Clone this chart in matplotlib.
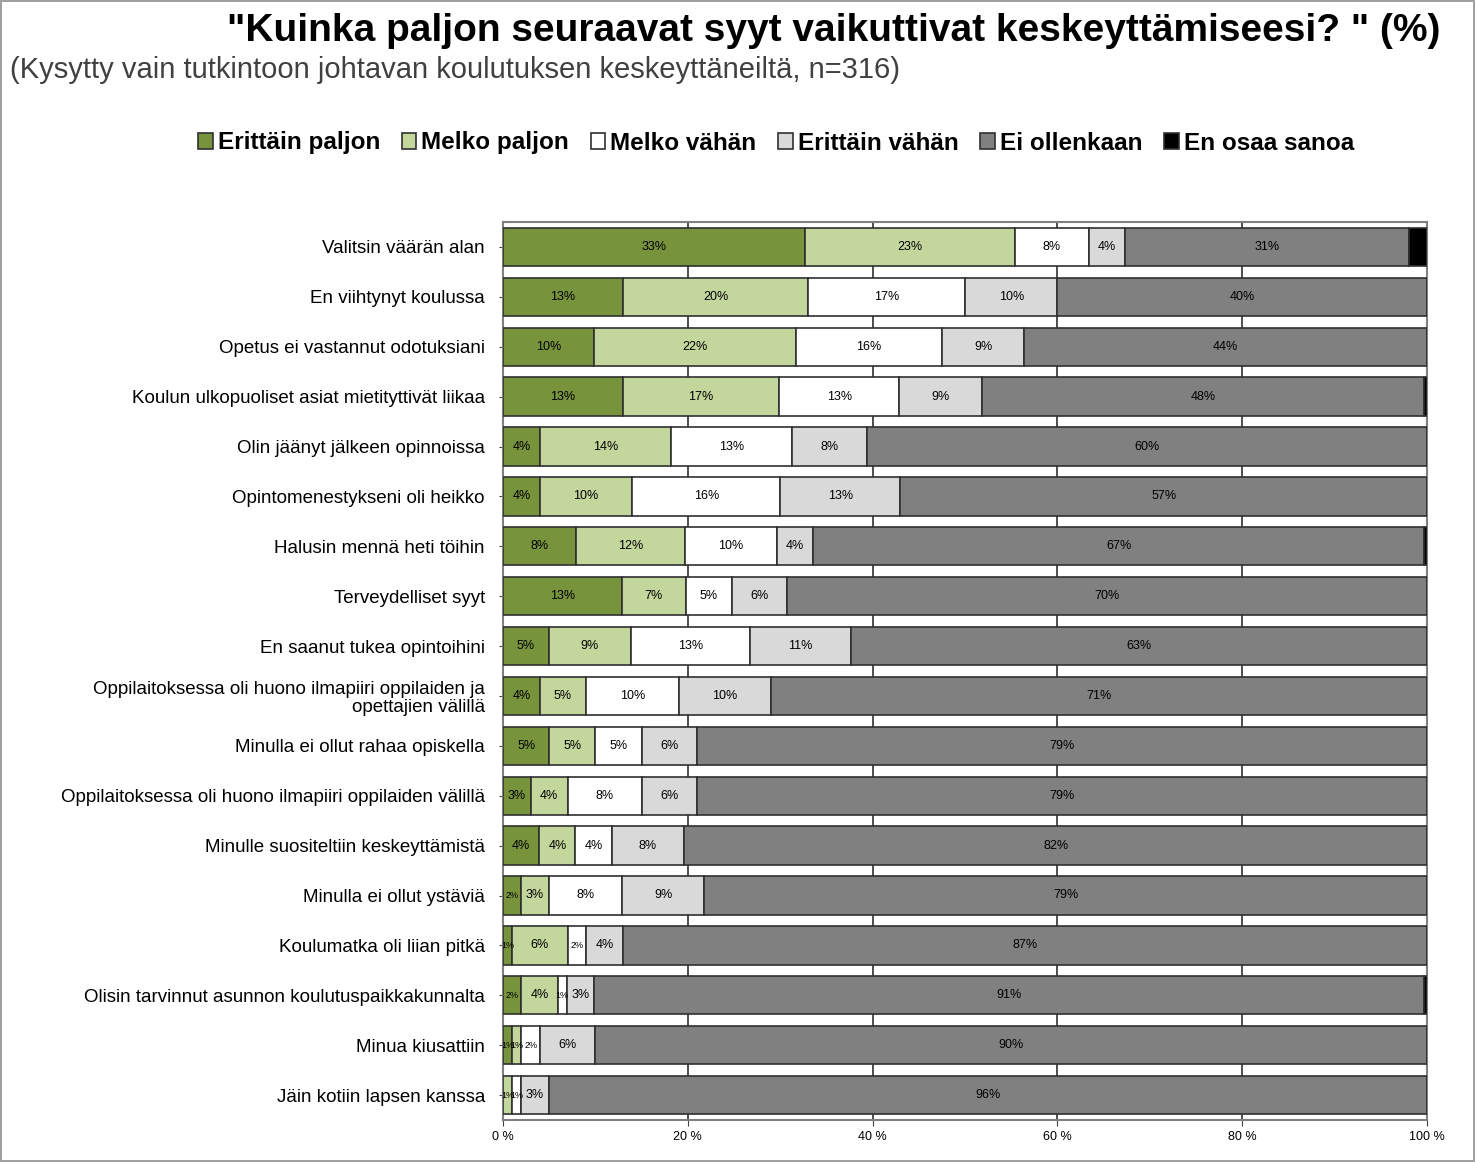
import matplotlib
matplotlib.use("Agg")
import matplotlib.pyplot as plt
import numpy as np

plt.rcParams['font.family'] = ['Liberation Sans', 'DejaVu Sans']

categories = [
    "Valitsin väärän alan",
    "En viihtynyt koulussa",
    "Opetus ei vastannut odotuksiani",
    "Koulun ulkopuoliset asiat mietityttivät liikaa",
    "Olin jäänyt jälkeen opinnoissa",
    "Opintomenestykseni oli heikko",
    "Halusin mennä heti töihin",
    "Terveydelliset syyt",
    "En saanut tukea opintoihini",
    "Oppilaitoksessa oli huono ilmapiiri oppilaiden ja\nopettajien välillä",
    "Minulla ei ollut rahaa opiskella",
    "Oppilaitoksessa oli huono ilmapiiri oppilaiden välillä",
    "Minulle suositeltiin keskeyttämistä",
    "Minulla ei ollut ystäviä",
    "Koulumatka oli liian pitkä",
    "Olisin tarvinnut asunnon koulutuspaikkakunnalta",
    "Minua kiusattiin",
    "Jäin kotiin lapsen kanssa",
]

series_names = ["Erittäin paljon", "Melko paljon", "Melko vähän",
                "Erittäin vähän", "Ei ollenkaan", "En osaa sanoa"]

erittain_paljon = [33, 13, 10, 13, 4, 4, 8, 13, 5, 4, 5, 3, 4, 2, 1, 2, 1, 0]
melko_paljon    = [23, 20, 22, 17, 14, 10, 12, 7, 9, 5, 5, 4, 4, 3, 6, 4, 1, 1]
melko_vahan     = [8, 17, 16, 13, 13, 16, 10, 5, 13, 10, 5, 8, 4, 8, 2, 1, 2, 1]
erittain_vahan  = [4, 10, 9, 9, 8, 13, 4, 6, 11, 10, 6, 6, 8, 9, 4, 3, 6, 3]
ei_ollenkaan    = [31, 40, 44, 48, 60, 57, 67, 70, 63, 71, 79, 79, 82, 79, 87, 91, 90, 96]
en_osaa_sanoa   = [2, 0, 0, 0.3, 0, 0, 0.3, 0, 0, 0, 0, 0, 0, 0, 0, 0.3, 0, 0]

colors = ["#77933C", "#C3D69B", "#FFFFFF", "#D9D9D9", "#808080", "#000000"]

x_ticks = [0, 20, 40, 60, 80, 100]
x_tick_labels = ["0 %", "20 %", "40 %", "60 %", "80 %", "100 %"]

data = np.array([erittain_paljon, melko_paljon, melko_vahan,
                 erittain_vahan, ei_ollenkaan, en_osaa_sanoa], dtype=float)
totals = data.sum(axis=0)
shares = data / totals * 100

fig = plt.figure(figsize=(14.75, 11.62), dpi=100)
fig.patch.set_edgecolor("#A0A0A0")
fig.patch.set_linewidth(1.5)

ax = fig.add_axes([503/1475, 1 - 1120/1162, (1427-503)/1475, (1120-222)/1162])

y = np.arange(len(categories))
left = np.zeros(len(categories))
handles = []
for i, name in enumerate(series_names):
    h = ax.barh(y, shares[i], left=left, height=0.77, color=colors[i],
                edgecolor="#303030", linewidth=1.2, label=name, zorder=3)
    handles.append(h)
    if i < 5:
        for j in range(len(categories)):
            v = data[i, j]
            if v > 0:
                fs = 9 if v > 2 else 6.5
                ax.text(left[j] + shares[i, j] / 2, y[j], f"{v:.0f}%",
                        ha="center", va="center", fontsize=fs, color="black",
                        zorder=4)
    left += shares[i]

ax.set_xlim(0, 100)
ax.set_ylim(len(categories) - 0.5, -0.5)
ax.set_yticks(y)
ax.set_yticklabels(categories, fontsize=13.5, linespacing=1.1)
ax.set_xticks(x_ticks)
ax.set_xticklabels(x_tick_labels, fontsize=9)
ax.tick_params(axis="y", length=3, color="#404040", pad=10)
ax.tick_params(axis="x", length=4, color="#404040", pad=4)
ax.xaxis.grid(True, color="#303030", linewidth=1.2, zorder=0)
for s in ax.spines.values():
    s.set_color("#808080")
    s.set_linewidth(1.5)

fig.text(1440/1475, 1 - 31/1162, "\"Kuinka paljon seuraavat syyt vaikuttivat keskeyttämiseesi? \" (%)",
         ha="right", va="center", fontsize=28, fontweight="bold", color="black")
fig.text(10/1475, 1 - 70/1162, "(Kysytty vain tutkintoon johtavan koulutuksen keskeyttäneiltä, n=316)",
         ha="left", va="center", fontsize=21, color="#404040")

leg = fig.legend(handles=handles, labels=series_names, loc="center",
                 bbox_to_anchor=(776/1475, 1 - 143/1162), ncol=6, frameon=False,
                 prop={"weight": "bold", "size": 17.5}, handlelength=0.6,
                 handleheight=0.6, handletextpad=0.2, columnspacing=0.9)

fig.savefig("out.png", dpi=100)
